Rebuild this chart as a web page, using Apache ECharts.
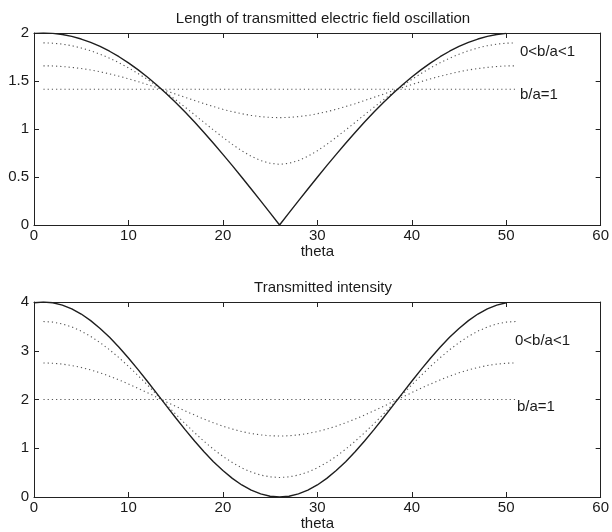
<!DOCTYPE html>
<html>
<head>
<meta charset="utf-8">
<script src="https://cdn.jsdelivr.net/npm/echarts@6/dist/echarts.min.js"></script>
<style>html,body{margin:0;padding:0;background:#fff}#c{width:612px;height:532px}</style>
</head>
<body>
<div id="c"></div>
<script>
// ---- data ----
var titles = ['Length of transmitted electric field oscillation', 'Transmitted intensity'];
var xLabel = 'theta';
var curveLabels = ['0<b/a<1', 'b/a=1'];

var thetaSolid = [0,1,2,3,4,5,6,7,8,9,10,11,12,13,14,15,16,17,18,19,20,21,22,23,24,25,26,27,28,29,30,31,32,33,34,35,36,37,38,39,40,41,42,43,44,45,46,47,48,49,50];
var thetaDotted = [1,2,3,4,5,6,7,8,9,10,11,12,13,14,15,16,17,18,19,20,21,22,23,24,25,26,27,28,29,30,31,32,33,34,35,36,37,38,39,40,41,42,43,44,45,46,47,48,49,50,51];
var thetaFlat = [1, 51];

// top panel: length of field oscillation
var lengthSolid = [1.996,2.000,1.996,1.984,1.965,1.937,1.902,1.860,1.810,1.753,1.689,1.618,1.541,1.458,1.369,1.275,1.176,1.072,0.964,0.852,0.736,0.618,0.497,0.375,0.251,0.126,0.000,0.126,0.251,0.375,0.497,0.618,0.736,0.852,0.964,1.072,1.176,1.275,1.369,1.458,1.541,1.618,1.689,1.753,1.810,1.860,1.902,1.937,1.965,1.984,1.996];
var lengthA = [1.897,1.894,1.884,1.868,1.844,1.815,1.779,1.738,1.690,1.637,1.579,1.517,1.449,1.378,1.304,1.227,1.148,1.069,0.990,0.913,0.840,0.773,0.716,0.671,0.643,0.632,0.643,0.671,0.716,0.773,0.840,0.913,0.990,1.069,1.148,1.227,1.304,1.378,1.449,1.517,1.579,1.637,1.690,1.738,1.779,1.815,1.844,1.868,1.884,1.894,1.897];
var lengthB = [1.658,1.657,1.651,1.642,1.630,1.615,1.596,1.574,1.550,1.523,1.494,1.463,1.431,1.398,1.363,1.330,1.297,1.264,1.234,1.205,1.180,1.159,1.141,1.129,1.121,1.118,1.121,1.129,1.141,1.159,1.180,1.205,1.234,1.264,1.297,1.330,1.363,1.398,1.431,1.463,1.494,1.523,1.550,1.574,1.596,1.615,1.630,1.642,1.651,1.657,1.658];
var lengthFlat = [1.414, 1.414];

// bottom panel: transmitted intensity
var intensitySolid = [3.984,4.000,3.984,3.937,3.860,3.753,3.618,3.458,3.275,3.072,2.852,2.618,2.375,2.126,1.874,1.625,1.382,1.148,0.928,0.725,0.542,0.382,0.247,0.140,0.063,0.016,0.000,0.016,0.063,0.140,0.247,0.382,0.542,0.725,0.928,1.148,1.382,1.625,1.874,2.126,2.375,2.618,2.852,3.072,3.275,3.458,3.618,3.753,3.860,3.937,3.984];
var intensityA = [3.600,3.587,3.550,3.488,3.402,3.294,3.166,3.020,2.857,2.681,2.494,2.300,2.100,1.900,1.700,1.506,1.319,1.143,0.980,0.834,0.706,0.598,0.512,0.450,0.413,0.400,0.413,0.450,0.512,0.598,0.706,0.834,0.980,1.143,1.319,1.506,1.700,1.900,2.100,2.300,2.494,2.681,2.857,3.020,3.166,3.294,3.402,3.488,3.550,3.587,3.600];
var intensityB = [2.750,2.744,2.726,2.697,2.657,2.607,2.547,2.478,2.402,2.319,2.232,2.141,2.047,1.953,1.859,1.768,1.681,1.598,1.522,1.453,1.393,1.343,1.303,1.274,1.256,1.250,1.256,1.274,1.303,1.343,1.393,1.453,1.522,1.598,1.681,1.768,1.859,1.953,2.047,2.141,2.232,2.319,2.402,2.478,2.547,2.607,2.657,2.697,2.726,2.744,2.750];
var intensityFlat = [2, 2];

// ---- chart ----
function pairs(xs, ys) { return xs.map(function (x, i) { return [x, ys[i]]; }); }
var FONT = 'Liberation Sans, Arial, Helvetica, sans-serif';
var TXT = '#1a1a1a';
var FS = 15;

function xAx(grid, pos, showLabel) {
  return {
    type: 'value', gridIndex: grid, position: pos, min: 0, max: 60, interval: 10,
    name: showLabel ? xLabel : '', nameLocation: 'middle', nameGap: 19,
    nameTextStyle: { color: TXT, fontSize: FS, fontFamily: FONT },
    axisLine: { show: true, onZero: false, lineStyle: { color: '#222', width: 1 } },
    axisTick: { show: true, inside: true, length: 5, lineStyle: { color: '#222' } },
    axisLabel: { show: showLabel, color: TXT, fontSize: FS, fontFamily: FONT, margin: 3 },
    splitLine: { show: false }
  };
}
function yAx(grid, pos, showLabel, max, interval) {
  return {
    type: 'value', gridIndex: grid, position: pos, min: 0, max: max, interval: interval,
    axisLine: { show: true, onZero: false, lineStyle: { color: '#222', width: 1 } },
    axisTick: { show: true, inside: true, length: 5, lineStyle: { color: '#222' } },
    axisLabel: { show: showLabel, color: TXT, fontSize: FS, fontFamily: FONT, margin: 5 },
    splitLine: { show: false }
  };
}
function solid(xi, yi, xs, ys) {
  return { type: 'line', xAxisIndex: xi, yAxisIndex: yi, data: pairs(xs, ys), symbol: 'none',
    lineStyle: { color: '#1e1e1e', width: 1.4 }, silent: true, animation: false };
}
function dotted(xi, yi, xs, ys) {
  return { type: 'line', xAxisIndex: xi, yAxisIndex: yi, data: pairs(xs, ys), symbol: 'none',
    lineStyle: { color: '#555', width: 1.1, type: [1.2, 3] }, silent: true, animation: false };
}

var chart = echarts.init(document.getElementById('c'), null, { renderer: 'canvas' });
chart.setOption({
  animation: false,
  backgroundColor: '#fff',
  textStyle: { fontFamily: FONT },
  title: [
    { text: titles[0], left: 318, top: 6, textAlign: 'center',
      textStyle: { color: TXT, fontSize: FS, fontWeight: 'normal', fontFamily: FONT } },
    { text: titles[1], left: 318, top: 275, textAlign: 'center',
      textStyle: { color: TXT, fontSize: FS, fontWeight: 'normal', fontFamily: FONT } }
  ],
  grid: [
    { left: 34, top: 33, width: 568, height: 192 },
    { left: 34, top: 302, width: 568, height: 195 }
  ],
  xAxis: [xAx(0, 'bottom', true), xAx(0, 'top', false), xAx(1, 'bottom', true), xAx(1, 'top', false)],
  yAxis: [yAx(0, 'left', true, 2, 0.5), yAx(0, 'right', false, 2, 0.5), yAx(1, 'left', true, 4, 1), yAx(1, 'right', false, 4, 1)],
  series: [
    dotted(0, 0, thetaDotted, lengthA),
    dotted(0, 0, thetaDotted, lengthB),
    dotted(0, 0, thetaFlat, lengthFlat),
    solid(0, 0, thetaSolid, lengthSolid),
    dotted(2, 2, thetaDotted, intensityA),
    dotted(2, 2, thetaDotted, intensityB),
    dotted(2, 2, thetaFlat, intensityFlat),
    solid(2, 2, thetaSolid, intensitySolid)
  ],
  graphic: [
    { type: 'text', left: 520, top: 44, style: { text: curveLabels[0], fill: TXT, font: FS + 'px ' + FONT } },
    { type: 'text', left: 520, top: 87, style: { text: curveLabels[1], fill: TXT, font: FS + 'px ' + FONT } },
    { type: 'text', left: 515, top: 333, style: { text: curveLabels[0], fill: TXT, font: FS + 'px ' + FONT } },
    { type: 'text', left: 517, top: 399, style: { text: curveLabels[1], fill: TXT, font: FS + 'px ' + FONT } }
  ]
});
</script>
</body>
</html>
